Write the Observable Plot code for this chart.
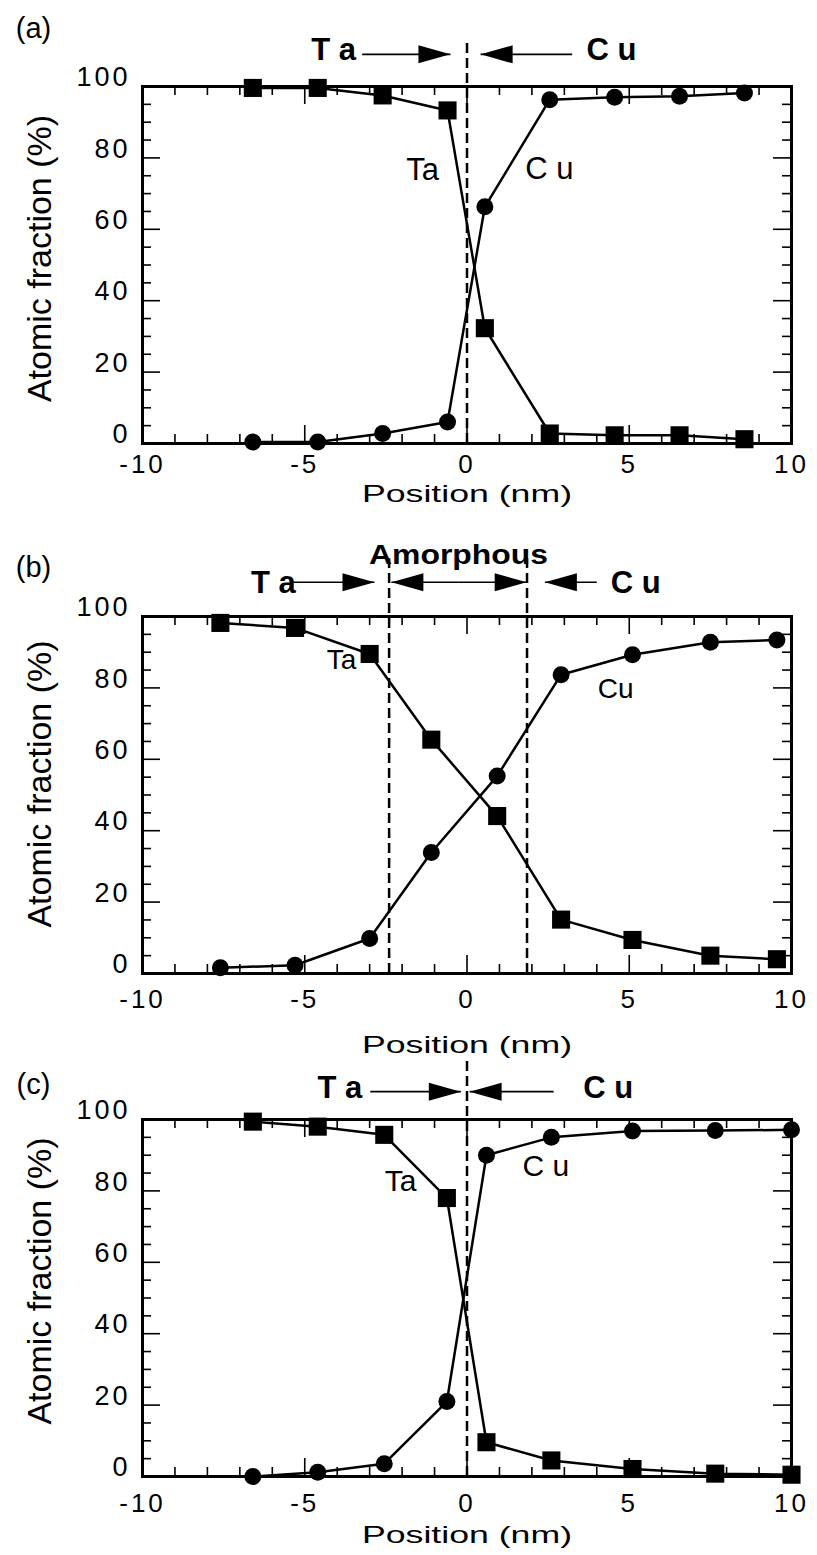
<!DOCTYPE html>
<html><head><meta charset="utf-8">
<script src="https://cdn.jsdelivr.net/npm/d3@7"></script>
<script src="https://cdn.jsdelivr.net/npm/@observablehq/plot@0.6"></script>
<style>body{margin:0;background:#fff;} #chart svg{display:block;}</style>
</head><body><div id="chart"></div>
<script>
// ---------- data ----------
// Panel (a)
const xA  = [-6.6, -4.6, -2.6, -0.6, 0.55, 2.55, 4.55, 6.55, 8.55];
const taA = [99.6, 99.6, 97.5, 93.3, 32.3, 2.8, 2.3, 2.3, 1.2];
const cuA = [0.4, 0.4, 2.8, 6.0, 66.3, 96.3, 97.0, 97.3, 98.2];
// Panel (b)
const xB  = [-7.6, -5.3, -3.0, -1.1, 0.93, 2.9, 5.1, 7.5, 9.55];
const taB = [98.2, 96.8, 89.5, 65.5, 44.1, 15.1, 9.4, 5.0, 4.0];
const cuB = [1.6, 2.3, 9.8, 33.9, 55.3, 83.7, 89.3, 92.8, 93.4];
// Panel (c)
const xC  = [-6.6, -4.6, -2.55, -0.62, 0.6, 2.6, 5.1, 7.65, 10];
const taC = [99.4, 98.0, 95.7, 78.0, 9.6, 4.5, 2.1, 0.8, 0.5];
const cuC = [0.0, 1.2, 3.6, 21.0, 90.0, 95.0, 96.8, 96.9, 97.1];

// axis ticks
const xTicks = [-10, -5, 0, 5, 10];
const yTicks = [0, 20, 40, 60, 80, 100];
const xMajor = [-5, 0, 5];
const xMinor = [-9,-8,-7,-6,-4,-3,-2,-1,1,2,3,4,6,7,8,9];
const yMajor = [20, 40, 60, 80];
const yMinor = [5,10,15,25,30,35,45,50,55,65,70,75,85,90,95];

// annotations
const seriesLabels = ["Ta", "Cu"];
const regionLabels = ["T a", "C u"];
const boundsA = [0], boundsB = [-2.4, 1.85], boundsC = [0];

// ---------- drawing ----------
const FONT = "'Liberation Sans', Arial, Helvetica, sans-serif";
const TRI_L = 32, TRI_H = 9;
const triRight = {draw(ctx){ctx.moveTo(0,0);ctx.lineTo(-TRI_L,-TRI_H);ctx.lineTo(-TRI_L,TRI_H);ctx.closePath();}};
const triLeft  = {draw(ctx){ctx.moveTo(0,0);ctx.lineTo(TRI_L,-TRI_H);ctx.lineTo(TRI_L,TRI_H);ctx.closePath();}};

const W = 817, ML = 142, MR = 26;

function panel(p) {
  const rows = p.x.map((x, i) => ({x, ta: p.ta[i], cu: p.cu[i]}));
  const arrows = p.arrowFrom.map((f, i) => ({from: f, to: p.arrowTo[i]}));
  const frameH = p.height - p.marginTop - p.marginBottom;
  const frameW = W - ML - MR;
  const tk = {strokeWidth: 1.6};
  const marks = [
    Plot.tickX(xMinor, {x: d => d, insetTop: frameH - 9, ...tk}),
    Plot.tickX(xMinor, {x: d => d, insetBottom: frameH - 9, ...tk}),
    Plot.tickX(xMajor, {x: d => d, insetTop: frameH - 18, ...tk}),
    Plot.tickX(xMajor, {x: d => d, insetBottom: frameH - 18, ...tk}),
    Plot.tickY(yMinor, {y: d => d, insetRight: frameW - 9, ...tk}),
    Plot.tickY(yMinor, {y: d => d, insetLeft: frameW - 9, ...tk}),
    Plot.tickY(yMajor, {y: d => d, insetRight: frameW - 18, ...tk}),
    Plot.tickY(yMajor, {y: d => d, insetLeft: frameW - 18, ...tk}),
    Plot.frame({strokeWidth: 3}),
    Plot.axisX({ticks: xTicks, tickSize: 0, tickPadding: p.xPad, tickFormat: d => String(d), fontSize: 26, label: null}),
    Plot.axisY({ticks: yTicks, tickSize: 0, tickPadding: 12, tickFormat: d => String(d), fontSize: 27, dy: -9, label: null}),
    Plot.ruleX(p.bounds, {x: d => d, y1: 0, y2: p.boundTop, strokeWidth: 2.5, strokeDasharray: "10,5"}),
    Plot.line(rows, {x: "x", y: "ta", strokeWidth: 2.5}),
    Plot.line(rows, {x: "x", y: "cu", strokeWidth: 2.5}),
    Plot.dot(rows, {x: "x", y: "ta", symbol: "square", r: 10.2, fill: "black", stroke: "none"}),
    Plot.dot(rows, {x: "x", y: "cu", symbol: "circle", r: 8.5, fill: "black", stroke: "none"}),
    Plot.link(arrows, {x1: "from", x2: "to", y1: p.arrowY, y2: p.arrowY, strokeWidth: 1.6}),
    Plot.dot(arrows.filter(d => d.to > d.from), {x: "to", y: p.arrowY, symbol: triRight, r: 5, fill: "black", stroke: "none"}),
    Plot.dot(arrows.filter(d => d.to < d.from), {x: "to", y: p.arrowY, symbol: triLeft, r: 5, fill: "black", stroke: "none"}),
    Plot.text(regionLabels, {x: p.annotX, y: p.annotBase, text: d => d, fontSize: 31, fontWeight: "bold", lineAnchor: "bottom"}),
    Plot.text(p.seriesText, {x: p.labelX, y: p.labelY, text: d => d, fontSize: p.labelSize, lineAnchor: "bottom"}),
    Plot.text([p.tag], {frameAnchor: "top-left", dx: -109, dy: p.tagDy, fontSize: 29, textAnchor: "middle", lineAnchor: "middle"}),
    Plot.text(["Atomic fraction (%)"], {frameAnchor: "left", rotate: -90, dx: -92, dy: p.yTitleDy, fontSize: 34, textAnchor: "middle", lineAnchor: "bottom"}),
    Plot.text(["Position (nm)"], {frameAnchor: "bottom", dy: p.xTitleDy, fontSize: 24, textAnchor: "middle", lineAnchor: "bottom"})
  ];
  if (p.head) marks.push(Plot.text([p.head], {x: [p.headX], y: p.headY, text: d => d, fontSize: 27, fontWeight: "bold", lineAnchor: "bottom"}));
  const svg = Plot.plot({
    width: W, height: p.height, marginTop: p.marginTop, marginBottom: p.marginBottom,
    marginLeft: ML, marginRight: MR,
    x: {domain: [-10, 10]}, y: {domain: [0, 100]},
    style: {fontFamily: FONT, background: "transparent", overflow: "visible", color: "black"},
    marks
  });
  const s = d3.select(svg);
  s.selectAll('g[aria-label="x-axis tick label"] text, g[aria-label="y-axis tick label"] text').attr("letter-spacing", 3);
  s.selectAll("text").filter(function(){ return this.textContent === "Position (nm)"; })
    .attr("textLength", 210).attr("lengthAdjust", "spacingAndGlyphs");
  s.selectAll("text").filter(function(){ return this.textContent === "Amorphous"; })
    .attr("textLength", 179).attr("lengthAdjust", "spacingAndGlyphs");
  return svg;
}

const root = document.getElementById("chart");
root.append(panel({
  x: xA, ta: taA, cu: cuA, tag: "(a)",
  height: 520, marginTop: 86, marginBottom: 77, xPad: 11, xTitleDy: 58, tagDy: -58, yTitleDy: -6.5,
  bounds: boundsA, boundTop: 112.9,
  annotX: [-4.11, 4.45], annotBase: 107.3,
  arrowFrom: [-3.23, 3.24], arrowTo: [-0.51, 0.42], arrowY: 109.0,
  seriesText: ["Ta", "C u"], labelX: [-1.37, 2.54], labelY: [73.7, 74.2], labelSize: 31
}));
root.append(panel({
  x: xB, ta: taB, cu: cuB, tag: "(b)",
  height: 542, marginTop: 96, marginBottom: 89, xPad: 16, xTitleDy: 79, tagDy: -49, yTitleDy: -11,
  bounds: boundsB, boundTop: 116.2,
  annotX: [-5.97, 5.2], annotBase: 106.7,
  arrowFrom: [-5.35, -0.25, -0.25, 4.0], arrowTo: [-2.85, -2.33, 1.84, 2.4], arrowY: 109.6,
  head: "Amorphous", headX: -0.26, headY: 114.8,
  seriesText: seriesLabels, labelX: [-3.87, 4.58], labelY: [85.4, 77.2], labelSize: 28
}));
root.append(panel({
  x: xC, ta: taC, cu: cuC, tag: "(c)",
  height: 493, marginTop: 57, marginBottom: 79, xPad: 17, xTitleDy: 66, tagDy: -35, yTitleDy: -17,
  bounds: boundsC, boundTop: 116.5,
  annotX: [-3.92, 4.35], annotBase: 105.9,
  arrowFrom: [-2.98, 2.67], arrowTo: [-0.19, 0.08], arrowY: 107.8,
  seriesText: ["Ta", "C u"], labelX: [-2.05, 2.43], labelY: [79.9, 84.1], labelSize: 30
}));
</script></body></html>
